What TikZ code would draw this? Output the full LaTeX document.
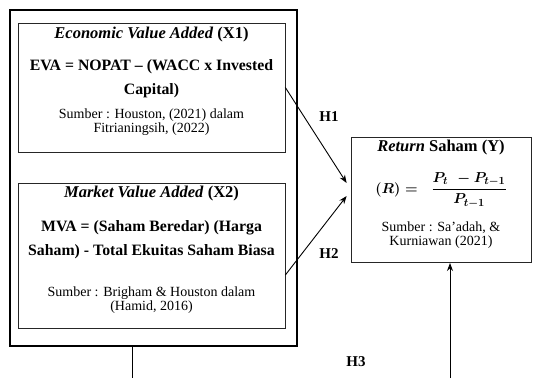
\documentclass[tikz,border=0pt]{standalone}
\usepackage{amsmath}
\usepackage{fontspec}
\setmainfont{Liberation Serif}
\usetikzlibrary{arrows.meta,calc}
\newcommand{\retformula}{\mbox{\fontsize{15}{16}\selectfont\boldmath$\displaystyle (R) = \;\;\frac{P_t \,\, - P_{t-1}}{P_{t-1}}$}}
\begin{document}
\begin{tikzpicture}[x=1pt,y=-1pt,
  box/.style={draw, line width=0.7pt, draw=black!85, inner sep=0pt},
  txt/.style={align=center, inner sep=0pt, font=\fontsize{14}{13.5}\selectfont},
  ttl/.style={align=center, inner sep=0pt, font=\fontsize{16.5}{17}\selectfont\bfseries},
  frm/.style={align=center, inner sep=0pt, font=\fontsize{15.8}{24}\selectfont\bfseries},
  lbl/.style={inner sep=0pt, font=\fontsize{15}{16}\selectfont\bfseries},
  arr/.style={line width=0.9pt, -{Stealth[length=8pt,width=6pt]}}
]
\useasboundingbox (0,0) rectangle (535,378);
% outer box
\node[draw, line width=1.1pt, minimum width=287pt, minimum height=336pt, inner sep=0pt] (outer) at (153.5,178) {};
% box 1
\node[box, minimum width=267pt, minimum height=129pt] (x1) at (151.5,87.5) {};
\node[ttl] (t1) at (151.5,35) {\textit{Economic Value Added} (X1)};
\node[frm] (f1) at (151.5,79) {EVA = NOPAT -- (WACC x Invested\\Capital)};
\node[txt] (s1) at (151.5,122) {Sumber : Houston, (2021) dalam\\Fitrianingsih, (2022)};
% box 2
\node[box, minimum width=267pt, minimum height=145pt] (x2) at (151.5,255.5) {};
\node[ttl] (t2) at (151.5,194) {\textit{Market Value Added} (X2)};
\node[frm] (f2) at (151.5,240) {MVA = (Saham Beredar) (Harga\\Saham) - Total Ekuitas Saham Biasa};
\node[txt] (s2) at (151.5,300) {Sumber : Brigham \& Houston dalam\\(Hamid, 2016)};
% return box
\node[box, minimum width=180pt, minimum height=125pt] (y) at (441,199.5) {};
\node[ttl] (ty) at (441,148) {\textit{Return} Saham (Y)};
\node[inner sep=0pt] (fy) at (441,190) {\retformula};
\node[txt] (sy) at (441,235) {Sumber : Sa'adah, \&\\Kurniawan (2021)};
% labels
\node[lbl] (h1) at (329,117) {H1};
\node[lbl] (h2) at (329,254) {H2};
\node[lbl] (h3) at (356,362) {H3};
% connectors
\coordinate (e1) at ($(y.west)+(-4,-16.5)$);
\coordinate (e2) at ($(y.west)+(-4,-3.5)$);
\coordinate (s2x) at ($(x2.east)+(0,19.5)$);
\draw[arr] (x1.east) -- (e1);
\draw[arr] (s2x) -- (e2);
\coordinate (b1) at (132,346);
\coordinate (b2) at (132,378);
\draw[line width=1pt] (b1) -- (b2);
\coordinate (c1) at (450,378);
\coordinate (c2) at (450,263);
\draw[arr] (c1) -- (c2);
\end{tikzpicture}
\end{document}
